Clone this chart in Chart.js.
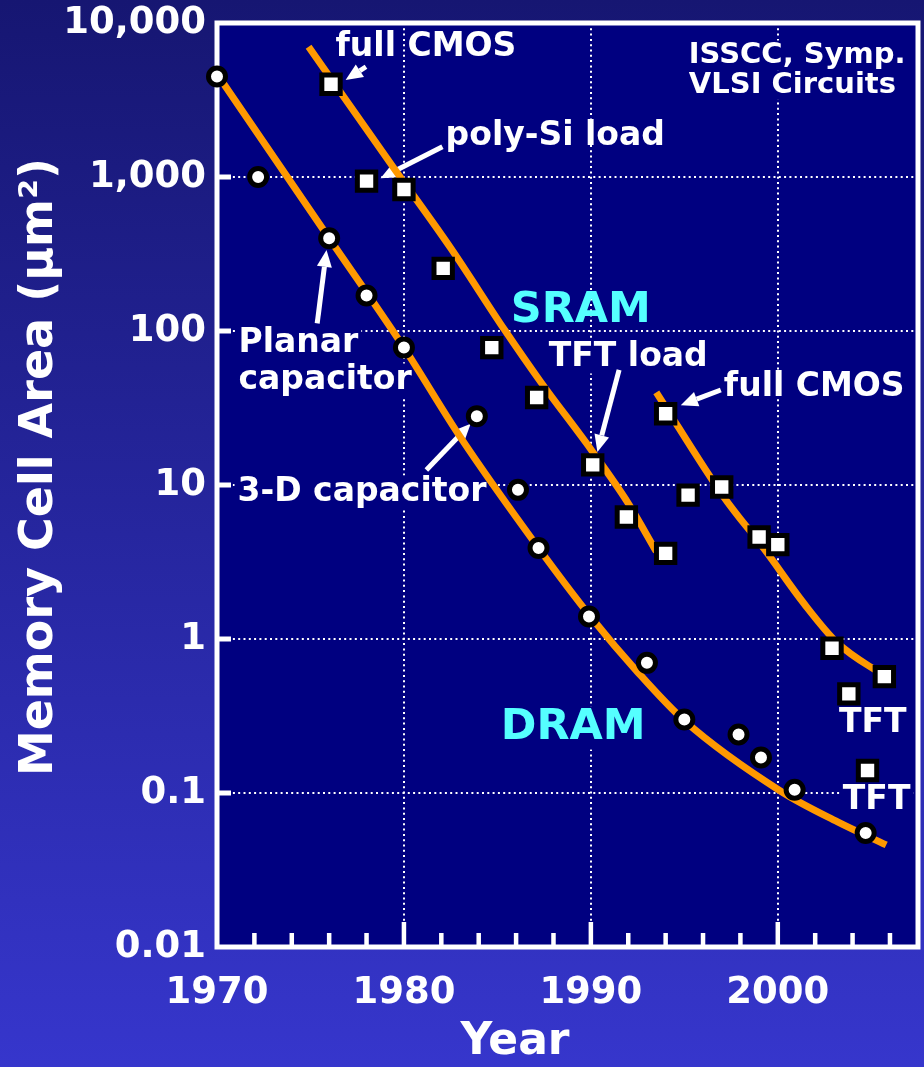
<!DOCTYPE html>
<html>
<head>
<meta charset="utf-8">
<script src="https://cdn.jsdelivr.net/npm/chart.js@4.4.1/dist/chart.umd.min.js"></script>
<style>
  html, body { margin: 0; padding: 0; }
  body { width: 924px; height: 1067px; overflow: hidden; background: linear-gradient(#161672, #3636cc); }
</style>
</head>
<body>
<canvas id="cellChart" width="924" height="1067"></canvas>
<script>
// DRAM cells (circles)
const dramYears = [1970.0, 1972.2, 1976.0, 1978.0, 1980.0, 1983.9, 1986.1, 1987.2, 1989.9, 1993.0, 1995.0, 1997.9, 1999.1, 2000.9, 2004.7];
const dramArea  = [4500, 1000, 400, 170, 78, 28, 9.3, 3.9, 1.4, 0.70, 0.30, 0.24, 0.17, 0.105, 0.055];

// SRAM cells (squares)
const sramYears = [1976.1, 1978.0, 1980.0, 1982.1, 1984.7, 1987.1, 1990.1, 1991.9, 1994.0, 1994.0, 1995.2, 1997.0, 1999.0, 2000.0, 2002.9, 2003.8, 2005.7, 2004.8];
const sramArea  = [4000, 940, 830, 255, 78, 37, 13.5, 6.2, 3.6, 29, 8.6, 9.7, 4.6, 4.1, 0.87, 0.44, 0.57, 0.14];

// trend curves
const dramTrendYears = [1970.0, 1976.0, 1980.0, 1983.0, 1987.2, 1990.0, 1992.5, 1995.0, 2000.2, 2003.2, 2005.8];
const dramTrendArea  = [4670, 400, 78, 20.6, 3.9, 1.39, 0.61, 0.295, 0.102, 0.065, 0.046];
const sramTrendYears = [1974.9, 1979.4, 1982.5, 1985.4, 1987.3, 1990.1, 1992.0, 1993.5];
const sramTrendArea  = [7000, 1170, 346, 101, 47, 16.4, 7.6, 3.7];
const cmosTrendYears = [1993.5, 1997.1, 1999.3, 2001.4, 2003.2, 2005.7];
const cmosTrendArea  = [40, 8.4, 3.8, 1.7, 0.94, 0.575];

// axes
const yTickValues = [0.01, 0.1, 1, 10, 100, 1000, 10000];
const xTickYears  = [1970, 1972, 1974, 1976, 1978, 1980, 1982, 1984, 1986, 1988, 1990, 1992, 1994, 1996, 1998, 2000, 2002, 2004, 2006];

// labels placed in data coordinates
const notes = [
  { text: 'full CMOS',     year: 1976.34, area: 6890 },
  { text: 'poly-Si load',  year: 1982.23, area: 1845 },
  { text: 'Planar',        year: 1971.15, area: 83.6, bg: true },
  { text: 'capacitor',     year: 1971.15, area: 48.1, bg: true },
  { text: '3-D capacitor', year: 1971.1,  area: 9.0,  bg: true },
  { text: 'TFT load',      year: 1987.75, area: 67.8, bg: true },
  { text: 'full CMOS',     year: 1997.11, area: 43.3 },
  { text: 'TFT',           year: 2003.27, area: 0.285 },
  { text: 'TFT',           year: 2003.48, area: 0.090, bg: true },
  { text: 'ISSCC, Symp.',  year: 1995.24, area: 6200, size: 29, bg: true },
  { text: 'VLSI Circuits', year: 1995.24, area: 3955, size: 29, bg: true },
  { text: 'SRAM',          year: 1985.71, area: 135,  size: 43, color: '#55ffff' },
  { text: 'DRAM',          year: 1985.18, area: 0.264, size: 43, color: '#55ffff', bg: true }
];

const arrows = [
  { from: [1977.97, 5200], to: [1976.88, 4265] },
  { from: [1982.06, 1574], to: [1978.75, 982] },
  { from: [1975.36, 112],  to: [1975.86, 336] },
  { from: [1981.2, 12.5],  to: [1983.57, 25] },
  { from: [1991.51, 55.9], to: [1990.35, 16.4] },
  { from: [1996.95, 41.4], to: [1994.81, 33] }
];

const NAVY = '#000080';
const ORANGE = '#ff9900';
const FONT = 'DejaVu Sans';

const pts = (xs, ys) => xs.map((x, i) => ({ x: x, y: ys[i] }));

function drawArrow(ctx, x1, y1, x2, y2) {
  const ang = Math.atan2(y2 - y1, x2 - x1);
  const head = 17, half = 7.5;
  const bx = x2 - head * Math.cos(ang), by = y2 - head * Math.sin(ang);
  ctx.beginPath();
  ctx.moveTo(x1, y1);
  ctx.lineTo(bx, by);
  ctx.lineWidth = 5;
  ctx.stroke();
  ctx.beginPath();
  ctx.moveTo(x2, y2);
  ctx.lineTo(bx + half * Math.sin(ang), by - half * Math.cos(ang));
  ctx.lineTo(bx - half * Math.sin(ang), by + half * Math.cos(ang));
  ctx.closePath();
  ctx.fill();
}

const plotDecor = {
  id: 'plotDecor',
  beforeDraw(chart) {
    const { ctx, chartArea: a } = chart;
    ctx.save();
    ctx.fillStyle = NAVY;
    ctx.fillRect(a.left, a.top, a.right - a.left, a.bottom - a.top);
    ctx.restore();
  },
  beforeDatasetsDraw(chart) {
    const { ctx, chartArea: a, scales } = chart;
    const xs = scales.x, ys = scales.y;
    ctx.save();

    // text labels, some with a navy backing that hides the grid behind them
    ctx.textBaseline = 'middle';
    ctx.textAlign = 'left';
    notes.forEach(n => {
      const size = n.size || 33;
      ctx.font = 'bold ' + size + 'px "' + FONT + '"';
      const x = xs.getPixelForValue(n.year);
      const y = ys.getPixelForValue(n.area);
      if (n.bg) {
        const w = ctx.measureText(n.text).width;
        ctx.fillStyle = NAVY;
        ctx.fillRect(x - 3, y - size * 0.5, w + 6, size);
      }
      ctx.fillStyle = n.color || '#ffffff';
      ctx.fillText(n.text, x, y);
    });

    // pointer arrows
    ctx.strokeStyle = '#ffffff';
    ctx.fillStyle = '#ffffff';
    arrows.forEach(ar => {
      drawArrow(ctx,
        xs.getPixelForValue(ar.from[0]), ys.getPixelForValue(ar.from[1]),
        xs.getPixelForValue(ar.to[0]), ys.getPixelForValue(ar.to[1]));
    });

    // inward tick marks
    ctx.fillStyle = '#ffffff';
    yTickValues.slice(1, -1).forEach(v => {
      const y = ys.getPixelForValue(v);
      ctx.fillRect(a.left, y - 2.5, 14, 5);
    });
    xTickYears.slice(1).forEach(v => {
      const x = xs.getPixelForValue(v);
      const len = v % 10 === 0 ? 25 : 14;
      ctx.fillRect(x - 2.25, a.bottom - len, 4.5, len);
    });

    // frame
    ctx.strokeStyle = '#ffffff';
    ctx.lineWidth = 5;
    ctx.strokeRect(a.left, a.top, a.right - a.left, a.bottom - a.top);
    ctx.restore();
  },
  afterDraw(chart) {
    const { ctx } = chart;
    ctx.save();
    ctx.fillStyle = '#ffffff';
    ctx.textAlign = 'center';
    ctx.textBaseline = 'middle';
    ctx.font = 'bold 44px "' + FONT + '"';
    ctx.fillText('Year', 515, 1043);
    ctx.translate(40, 467);
    ctx.rotate(-Math.PI / 2);
    ctx.font = 'bold 46px "' + FONT + '"';
    ctx.fillText('Memory Cell Area (\u03bcm\u00b2)', 0, 0);
    ctx.restore();
  }
};

const curve = (xs, ys) => ({
  type: 'line',
  data: pts(xs, ys),
  borderColor: ORANGE,
  borderWidth: 7,
  pointRadius: 0,
  fill: false,
  cubicInterpolationMode: 'monotone',
  clip: false,
  order: 3
});

new Chart(document.getElementById('cellChart'), {
  type: 'line',
  data: {
    datasets: [
      {
        label: 'DRAM',
        data: pts(dramYears, dramArea),
        showLine: false,
        pointStyle: 'circle',
        pointRadius: 8.5,
        pointBackgroundColor: '#ffffff',
        pointBorderColor: '#000000',
        pointBorderWidth: 5,
        clip: false,
        order: 1
      },
      {
        label: 'SRAM',
        data: pts(sramYears, sramArea),
        showLine: false,
        pointStyle: 'rect',
        pointRadius: 13,
        pointBackgroundColor: '#ffffff',
        pointBorderColor: '#000000',
        pointBorderWidth: 5,
        clip: false,
        order: 1
      },
      curve(dramTrendYears, dramTrendArea),
      curve(sramTrendYears, sramTrendArea),
      curve(cmosTrendYears, cmosTrendArea)
    ]
  },
  options: {
    responsive: false,
    animation: false,
    devicePixelRatio: 1,
    layout: { autoPadding: false, padding: { top: 23, right: 6, left: 0, bottom: 0 } },
    plugins: { legend: { display: false }, tooltip: { enabled: false } },
    scales: {
      x: {
        type: 'linear',
        min: 1970,
        max: 2007.5,
        afterBuildTicks: s => { s.ticks = xTickYears.map(v => ({ value: v })); },
        afterFit: s => { s.height = 120; s.paddingLeft = 0; s.paddingRight = 0; },
        ticks: {
          autoSkip: false,
          maxRotation: 0,
          padding: 24,
          color: '#ffffff',
          font: { family: FONT, size: 37, weight: 'bold' },
          callback: v => (v % 10 === 0 ? String(v) : '')
        },
        grid: {
          drawTicks: false,
          lineWidth: 2,
          color: c => ([1980, 1990, 2000].includes(c.tick && c.tick.value) ? '#ffffff' : 'rgba(0,0,0,0)')
        },
        border: { display: false, dash: [2, 3.3] }
      },
      y: {
        type: 'logarithmic',
        min: 0.01,
        max: 10000,
        afterBuildTicks: s => { s.ticks = yTickValues.map(v => ({ value: v })); },
        afterFit: s => { s.width = 217; s.paddingTop = 0; s.paddingBottom = 0; },
        ticks: {
          padding: 11,
          color: '#ffffff',
          font: { family: FONT, size: 37, weight: 'bold' },
          callback: v => v.toLocaleString('en-US')
        },
        grid: {
          drawTicks: false,
          lineWidth: 2,
          color: c => {
            const v = c.tick && c.tick.value;
            return v > 0.05 && v < 5000 ? '#ffffff' : 'rgba(0,0,0,0)';
          }
        },
        border: { display: false, dash: [2, 3.3] }
      }
    }
  },
  plugins: [plotDecor]
});
</script>
</body>
</html>
